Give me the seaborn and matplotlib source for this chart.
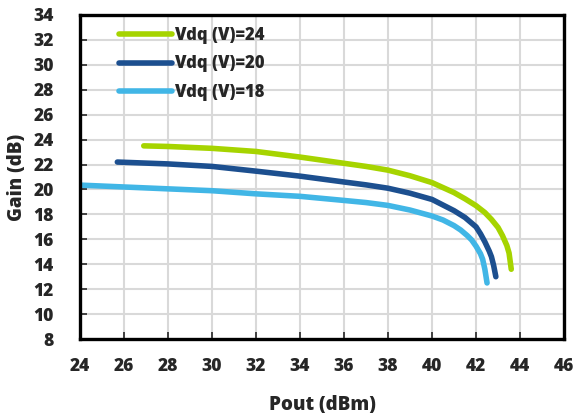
import pandas as pd
import matplotlib.pyplot as plt
import seaborn as sns

# data
pout_24 = [26.9, 28, 30, 32, 34, 36, 37, 38, 39, 40, 41, 41.5, 42.0, 42.4, 42.7, 43.0, 43.2, 43.4, 43.5, 43.6]
gain_24 = [23.5, 23.45, 23.3, 23.05, 22.6, 22.1, 21.85, 21.55, 21.1, 20.55, 19.75, 19.25, 18.7, 18.15, 17.6, 16.95, 16.3, 15.5, 14.9, 13.6]

pout_20 = [25.7, 28, 30, 32, 34, 36, 37, 38, 39, 40, 41, 41.5, 42.0, 42.2, 42.4, 42.6, 42.7, 42.8, 42.9]
gain_20 = [22.2, 22.05, 21.85, 21.47, 21.07, 20.6, 20.37, 20.1, 19.7, 19.2, 18.3, 17.75, 17.0, 16.45, 15.8, 15.05, 14.6, 13.9, 13.0]

pout_18 = [24.0, 26, 28, 30, 32, 34, 36, 37, 38, 39, 40, 40.5, 41, 41.3, 41.6, 41.8, 42.0, 42.2, 42.3, 42.4, 42.5]
gain_18 = [20.35, 20.2, 20.05, 19.9, 19.65, 19.45, 19.12, 18.95, 18.72, 18.35, 17.87, 17.55, 17.1, 16.75, 16.3, 15.95, 15.45, 14.85, 14.4, 13.6, 12.5]

labels = ["Vdq (V)=24", "Vdq (V)=20", "Vdq (V)=18"]
colors = ["#a6d400", "#1c4f8f", "#41b6e6"]

df = pd.concat([
    pd.DataFrame({"Pout": pout_24, "Gain": gain_24, "Vdq": labels[0]}),
    pd.DataFrame({"Pout": pout_20, "Gain": gain_20, "Vdq": labels[1]}),
    pd.DataFrame({"Pout": pout_18, "Gain": gain_18, "Vdq": labels[2]}),
])

sns.set_style("white")
plt.rcParams['font.family'] = ['Open Sans', 'DejaVu Sans']
plt.rcParams['font.weight'] = 'heavy'

fig = plt.figure(figsize=(5.75, 4.16), dpi=100)
ax = fig.add_axes([0.139, 0.185, 0.842, 0.779])

sns.lineplot(data=df, x="Pout", y="Gain", hue="Vdq", palette=dict(zip(labels, colors)),
             sort=False, estimator=None, linewidth=4, solid_capstyle='round',
             solid_joinstyle='round', ax=ax)

ax.set_xlim(24, 46)
ax.set_ylim(8, 34)
ax.set_xticks(range(24, 47, 2))
ax.set_yticks(range(8, 35, 2))
ax.grid(True, color="#d9d9d9", linewidth=1.5)
ax.set_axisbelow(True)
for s in ax.spines.values():
    s.set_color("black")
    s.set_linewidth(2.4)
ax.tick_params(axis='both', direction='in', length=5, width=1.2, labelsize=12.5,
               bottom=True, left=True, top=False, right=False)
ax.tick_params(axis='x', pad=14)
ax.tick_params(axis='y', pad=19)
for t in ax.get_xticklabels() + ax.get_yticklabels():
    t.set_fontweight('heavy')
ax.set_xlabel("Pout (dBm)", fontsize=13.5, fontweight='heavy', labelpad=14)
ax.set_ylabel("Gain (dB)", fontsize=13.5, fontweight='heavy', labelpad=4)

leg = ax.legend(loc='upper left', frameon=False, handlelength=3.2, handletextpad=0.15,
                labelspacing=0.7, fontsize=12, bbox_to_anchor=(0.05, 1.01))
for t in leg.get_texts():
    t.set_fontweight('heavy')

fig.savefig("out.png", dpi=100)
